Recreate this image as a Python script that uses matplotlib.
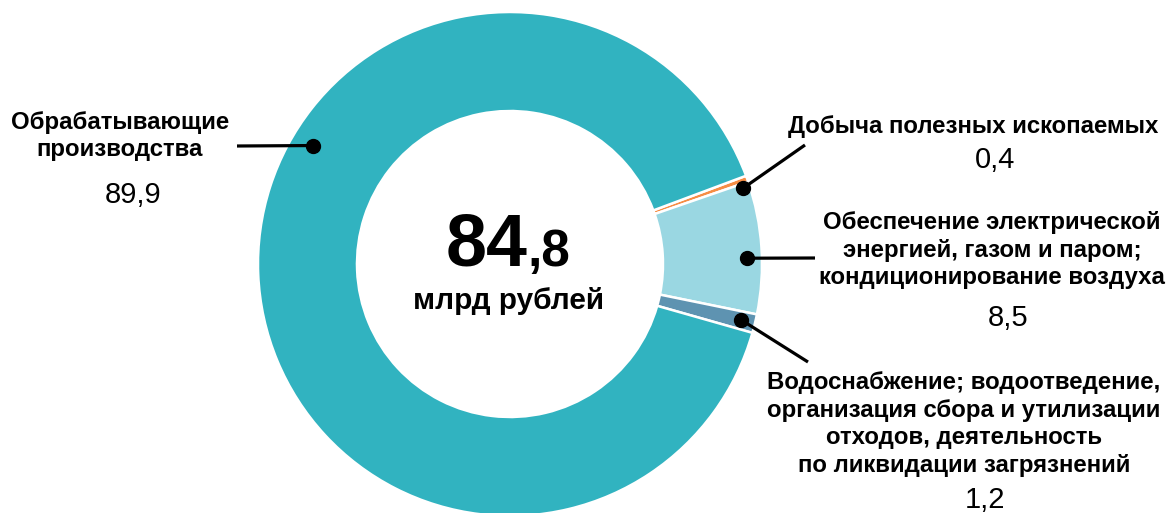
import numpy as np
import matplotlib
matplotlib.use("Agg")
import matplotlib.pyplot as plt

plt.rcParams['font.family'] = ['Liberation Sans', 'DejaVu Sans']

# Data
categories = [
    "Добыча полезных ископаемых",
    "Обеспечение электрической\nэнергией, газом и паром;\nкондиционирование воздуха",
    "Водоснабжение; водоотведение,\nорганизация сбора и утилизации\nотходов, деятельность\nпо ликвидации загрязнений",
    "Обрабатывающие\nпроизводства",
]
values = [0.4, 8.5, 1.2, 89.9]
value_labels = ["0,4", "8,5", "1,2", "89,9"]
colors = ["#F68D45", "#9AD7E2", "#5E93B1", "#31B3C0"]
total_main = "84"
total_frac = ",8"
total_unit = "млрд рублей"

W, H = 1170, 513
fig = plt.figure(figsize=(W / 100, H / 100), dpi=100)
ax = fig.add_axes([0, 0, 1, 1])

cx, cy = 510, H - 264
R = 252
width = 99

wedges, _ = ax.pie(values, colors=colors, startangle=20.5, counterclock=False,
                   radius=R, center=(cx, cy),
                   wedgeprops=dict(width=width, edgecolor="white", linewidth=1.8))
ax.set_xlim(0, W)
ax.set_ylim(0, H)
ax.set_aspect('equal')
ax.axis('off')

# leader lines: (dot angle deg, dot radius, end x, end y in px)
leaders = [
    (18.0, 245, 805, 145),
    (1.4, 237, 815, 258),
    (-13.6, 238, 808, 362),
    (149.0, 230, 237, 146),
]
for (ang, r, ex, ey) in leaders:
    t = np.deg2rad(ang)
    dx, dy = cx + r * np.cos(t), cy + r * np.sin(t)
    ax.plot([dx, ex], [dy, H - ey], color="black", lw=2.3, solid_capstyle='butt', zorder=5)
    ax.plot(dx, dy, 'o', color="black", ms=10, zorder=6)

label_pos = [(973, 126), (992, 250), (964, 424), (120, 136)]
value_pos = [(995, 160), (1008, 318), (985, 500), (133, 195)]
for cat, vl, (lx, ly), (vx, vy) in zip(categories, value_labels, label_pos, value_pos):
    ax.text(lx, H - ly, cat, ha='center', va='center', fontsize=17.3, fontweight='bold',
            linespacing=1.27, color="black")
    ax.text(vx, H - vy, vl, ha='center', va='center', fontsize=21, color="black")

# center text
ax.text(527, H - 266, total_main, ha='right', va='baseline', fontsize=53,
        fontweight='bold', color='black')
ax.text(527, H - 266, total_frac, ha='left', va='baseline', fontsize=37,
        fontweight='bold', color='black')
ax.text(509, H - 309, total_unit, ha='center', va='baseline', fontsize=21.4,
        fontweight='bold', color='black')

fig.savefig("out.png", dpi=100)
